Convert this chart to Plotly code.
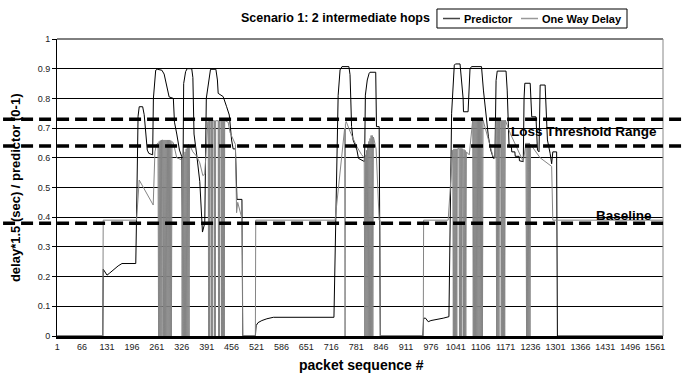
import plotly.graph_objects as go

# ---------------- data ----------------
x_tick_values = [1, 66, 131, 196, 261, 326, 391, 456, 521, 586, 651, 716, 781, 846,
                 911, 976, 1041, 1106, 1171, 1236, 1301, 1366, 1431, 1496, 1561]
x_tick_labels = ["1", "66", "131", "196", "261", "326", "391", "456", "521", "586",
                 "651", "716", "781", "846", "911", "976", "1041", "1106", "1171",
                 "1236", "1301", "1366", "1431", "1496", "1561"]
y_tick_values = [0, 0.1, 0.2, 0.3, 0.4, 0.5, 0.6, 0.7, 0.8, 0.9, 1]
y_tick_labels = ["0", "0.1", "0.2", "0.3", "0.4", "0.5", "0.6", "0.7", "0.8", "0.9", "1"]

loss_threshold_high = 0.73
loss_threshold_low = 0.64
baseline_level = 0.38

# Predictor (packet #, value)
predictor = [
    (1, 0), (120, 0), (121, 0.225), (131, 0.205), (138, 0.212), (145, 0.22), (152, 0.228),
    (160, 0.236), (170, 0.244), (206, 0.244), (208, 0.40), (212, 0.74), (215, 0.772),
    (224, 0.772), (228, 0.745), (236, 0.626), (240, 0.615), (250, 0.61), (252, 0.80),
    (258, 0.895), (262, 0.898), (274, 0.895), (280, 0.882), (286, 0.851), (293, 0.805),
    (304, 0.80), (307, 0.72), (313, 0.68), (320, 0.626), (326, 0.604), (328, 0.36),
    (331, 0.85), (336, 0.89), (340, 0.90), (352, 0.90), (355, 0.87), (358, 0.68),
    (365, 0.61), (373, 0.52), (380, 0.35), (386, 0.38), (390, 0.80), (401, 0.898),
    (415, 0.898), (419, 0.862), (421, 0.817), (434, 0.806), (443, 0.772), (450, 0.744),
    (456, 0.66), (460, 0.63), (466, 0.63), (470, 0.46), (483, 0.46), (485, 0),
    (518, 0), (520, 0.035), (525, 0.045), (535, 0.052), (548, 0.058), (565, 0.063),
    (723, 0.063), (730, 0.52), (734, 0.81), (739, 0.896), (744, 0.907), (762, 0.907),
    (765, 0.88), (767, 0.795), (769, 0.705), (773, 0.66), (783, 0.626), (787, 0.598),
    (795, 0.593), (803, 0.587), (805, 0.811), (810, 0.862), (815, 0.885), (817, 0.888),
    (832, 0.888), (834, 0.705), (841, 0.705), (844, 0),
    (955, 0), (957, 0.06), (962, 0.06), (969, 0.048), (976, 0.052), (990, 0.055),
    (1008, 0.06), (1023, 0.065), (1026, 0.40), (1030, 0.75), (1037, 0.912), (1040, 0.916),
    (1052, 0.916), (1056, 0.862), (1060, 0.80), (1061, 0.755), (1073, 0.755), (1078, 0.90),
    (1082, 0.907), (1108, 0.907), (1113, 0.828), (1126, 0.671), (1132, 0.626),
    (1139, 0.598), (1143, 0.60), (1146, 0.86), (1149, 0.892), (1172, 0.892), (1175, 0.828),
    (1180, 0.637), (1186, 0.637), (1187, 0.62), (1195, 0.62), (1196, 0.605), (1206, 0.605),
    (1207, 0.59), (1217, 0.587), (1219, 0.80), (1221, 0.851), (1235, 0.851), (1239, 0.738),
    (1250, 0.738), (1254, 0.626), (1258, 0.62), (1261, 0.845), (1274, 0.845),
    (1280, 0.66), (1287, 0.615), (1291, 0.58), (1294, 0.62), (1304, 0.62), (1306, 0),
    (1581, 0),
]

# One Way Delay (packet #, value); zeros are lost packets
one_way_delay_part1 = [
    (1, 0), (120, 0), (121, 0.39), (208, 0.39), (215, 0.525), (251.5, 0.441),
    (256, 0.62), (260, 0.645),
    (264, 0.65), (265.5, 0), (267, 0.655), (268.5, 0), (270, 0.658), (271.5, 0),
    (273, 0.66), (274.5, 0), (275.5, 0.66), (277, 0.66),
    (278, 0), (279.5, 0.66), (281, 0), (282.5, 0.66), (284, 0), (285.5, 0.66), (287, 0),
    (288, 0.66), (289, 0.66),
    (290, 0), (291.5, 0.66), (293, 0), (294.5, 0.66), (296, 0), (297.5, 0.658), (299, 0),
    (300.5, 0.655), (304, 0.65), (313, 0.60), (326, 0.593),
    (327, 0), (328.5, 0.60), (330, 0), (331.5, 0.61), (333, 0), (334.5, 0.62), (336, 0),
    (337.5, 0.63), (339, 0), (340.5, 0.64), (342, 0), (343.5, 0.645), (345, 0),
    (346.5, 0.643), (355, 0.62), (365, 0.605), (373, 0.583), (381, 0.54), (386, 0.545),
    (394, 0.722),
    (395, 0.722), (396, 0), (397, 0.725), (397.5, 0.725), (398.5, 0), (399.5, 0.725),
    (402, 0.725), (403, 0), (404, 0.725), (404.5, 0.725), (405.5, 0), (406.5, 0.725),
    (410, 0.725), (411, 0), (412, 0.725), (412.5, 0.725), (413.5, 0), (414.5, 0.725),
    (421, 0.725), (422, 0), (423, 0.725), (423.5, 0.725), (424.5, 0), (425.5, 0.725),
    (428.5, 0.725), (429.5, 0), (430.5, 0.725), (431, 0.725), (432, 0), (433, 0.725),
    (433.5, 0.725), (434.5, 0), (435.5, 0.725), (436, 0.725), (437, 0), (438, 0.725),
    (447, 0.72), (452, 0.685), (466, 0.645), (469, 0.415), (472, 0.45), (482, 0.40),
    (484, 0.39), (485, 0), (518, 0),
]
one_way_delay_part2 = [
    (519, 0.39), (726, 0.39), (751, 0.70), (752, 0), (753, 0.715), (755, 0.722),
    (765, 0.689), (782, 0.639), (795, 0.611), (802, 0.60),
    (803.5, 0), (805, 0.61), (806.5, 0), (808, 0.625), (809.5, 0), (811, 0.64), (812.5, 0),
    (814, 0.655), (815.5, 0), (817, 0.665), (818.5, 0), (820, 0.675), (821.5, 0),
    (823, 0.675), (824.5, 0), (826, 0.67),
    (833, 0.63), (838, 0.45), (841, 0.39), (843, 0.39), (844, 0), (956, 0),
]
one_way_delay_part3 = [
    (957, 0.39), (1021, 0.39), (1033, 0.626),
    (1034.5, 0), (1036, 0.63), (1037.5, 0), (1039, 0.63), (1040.5, 0), (1042, 0.63),
    (1043.5, 0), (1045, 0.63), (1049, 0.632),
    (1050.5, 0), (1052, 0.632), (1053.5, 0), (1055, 0.632), (1056.5, 0), (1058, 0.63),
    (1059.5, 0.63), (1061, 0), (1062.5, 0.628), (1064, 0), (1065.5, 0.625), (1067, 0),
    (1068.5, 0.62), (1076, 0.61), (1085, 0.727),
    (1086.5, 0), (1088, 0.727), (1089.5, 0), (1091, 0.727), (1092.5, 0), (1094, 0.727),
    (1095.5, 0), (1097, 0.727), (1098.5, 0), (1100, 0.727), (1101.5, 0), (1103, 0.727),
    (1104.5, 0), (1106, 0.727), (1107.5, 0), (1109, 0.727), (1110.5, 0), (1112, 0.727),
    (1138, 0.605), (1145, 0.60), (1146, 0.727),
    (1147.5, 0), (1149, 0.727), (1150.5, 0), (1152, 0.727), (1153.5, 0), (1155, 0.727),
    (1158, 0.727), (1159.5, 0), (1161, 0.727), (1162.5, 0), (1164, 0.727), (1165.5, 0),
    (1167, 0.727), (1168.5, 0), (1170, 0.727),
    (1183, 0.682), (1217, 0.587), (1224, 0.65),
    (1225.5, 0), (1227, 0.65), (1228.5, 0), (1230, 0.65), (1231.5, 0), (1233, 0.65),
    (1234.5, 0), (1236, 0.645),
    (1261, 0.60), (1291, 0.571), (1294, 0.39), (1581, 0.39),
]

# ---------------- figure ----------------
FONT = "Liberation Sans, Arial, sans-serif"
one_way_delay = one_way_delay_part1 + one_way_delay_part2 + one_way_delay_part3

fig = go.Figure()
fig.add_trace(go.Scatter(
    x=[p[0] for p in predictor], y=[p[1] for p in predictor],
    mode="lines", name="Predictor", line=dict(color="black", width=1),
    showlegend=False, hoverinfo="skip"))
fig.add_trace(go.Scatter(
    x=[p[0] for p in one_way_delay], y=[p[1] for p in one_way_delay],
    mode="lines", name="One Way Delay", line=dict(color="#858585", width=1),
    showlegend=False, hoverinfo="skip"))

shapes = []
# plot-area top and right border
shapes.append(dict(type="line", xref="paper", yref="paper", x0=0, x1=1, y0=1, y1=1,
                   line=dict(color="black", width=1)))
shapes.append(dict(type="line", xref="paper", yref="paper", x0=1, x1=1, y0=0, y1=1,
                   line=dict(color="#888888", width=1)))
# dashed reference lines
for yv, x_end in [(loss_threshold_high, 1.036), (loss_threshold_low, 1.036),
                  (baseline_level, 1.009)]:
    shapes.append(dict(type="line", xref="paper", yref="y", x0=-0.089, x1=x_end,
                       y0=yv, y1=yv, layer="above",
                       line=dict(color="black", width=3.5, dash="12px,6px")))
# legend box and samples
shapes.append(dict(type="rect", xref="paper", yref="paper", x0=0.627, x1=0.9406,
                   y0=1.037, y1=1.101, line=dict(color="black", width=1),
                   fillcolor="white"))
shapes.append(dict(type="line", xref="paper", yref="paper", x0=0.637, x1=0.665,
                   y0=1.069, y1=1.069, line=dict(color="#444444", width=1.5)))
shapes.append(dict(type="line", xref="paper", yref="paper", x0=0.7657, x1=0.7937,
                   y0=1.069, y1=1.069, line=dict(color="#999999", width=1.5)))

annotations = [
    dict(text="<b>Scenario 1: 2 intermediate hops</b>", xref="paper", yref="paper",
         x=0.4596, y=1.0707, xanchor="center", yanchor="middle", showarrow=False,
         font=dict(family=FONT, size=12.5, color="black")),
    dict(text="<b>Predictor</b>", xref="paper", yref="paper", x=0.669, y=1.069,
         xanchor="left", yanchor="middle", showarrow=False,
         font=dict(family=FONT, size=11, color="black")),
    dict(text="<b>One Way Delay</b>", xref="paper", yref="paper", x=0.7975, y=1.069,
         xanchor="left", yanchor="middle", showarrow=False,
         font=dict(family=FONT, size=11, color="black")),
    dict(text="<b>Loss Threshold Range</b>", xref="paper", yref="y", x=0.870, y=0.69,
         xanchor="center", yanchor="middle", showarrow=False,
         font=dict(family=FONT, size=13.5, color="black")),
    dict(text="<b>Baseline</b>", xref="paper", yref="y", x=0.936, y=0.407,
         xanchor="center", yanchor="middle", showarrow=False,
         font=dict(family=FONT, size=13.5, color="black")),
    dict(text="<b>delay*1.5 (sec) / predictor (0-1)</b>", xref="paper", yref="paper",
         x=-0.0693, y=0.498, xanchor="center", yanchor="middle", textangle=-90,
         showarrow=False, font=dict(family=FONT, size=13, color="black")),
    dict(text="<b>packet sequence #</b>", xref="paper", yref="paper",
         x=0.5017, y=-0.098, xanchor="center", yanchor="middle", showarrow=False,
         font=dict(family=FONT, size=14, color="black")),
]

fig.update_layout(
    width=688, height=377,
    margin=dict(l=57, r=25, t=39, b=41, pad=0),
    paper_bgcolor="white", plot_bgcolor="white",
    shapes=shapes, annotations=annotations, showlegend=False,
    xaxis=dict(range=[0.5, 1581.5], tickmode="array", tickvals=x_tick_values,
               ticktext=x_tick_labels, showgrid=False, zeroline=False,
               showline=True, linecolor="black", linewidth=3, ticks="",
               tickfont=dict(family=FONT, size=9, color="#222222")),
    yaxis=dict(range=[0, 1], tickmode="array", tickvals=y_tick_values,
               ticktext=y_tick_labels, showgrid=True, gridcolor="black", gridwidth=1,
               zeroline=False, showline=True, linecolor="black", linewidth=1,
               ticks="outside", ticklen=4, tickcolor="black",
               tickfont=dict(family=FONT, size=9, color="#222222")),
)

fig.write_html(
    "out.html",
    config={"displayModeBar": False, "staticPlot": True},
    post_script="document.body.style.margin='0px';document.body.style.overflow='hidden';",
)
